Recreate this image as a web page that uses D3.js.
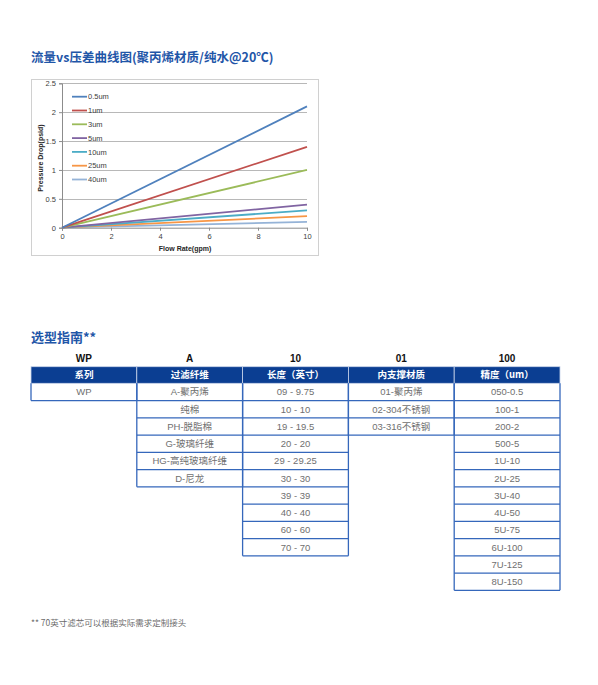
<!DOCTYPE html>
<html>
<head>
<meta charset="utf-8">
<script src="https://cdn.jsdelivr.net/npm/d3@7"></script>
<style>
  body { margin: 0; background: #fff; }
  text { font-family: "Liberation Sans", "Noto Sans CJK SC", sans-serif; }
</style>
</head>
<body>
<div id="page"></div>
<script>
// chart data
var flowRate = [0, 10];
var seriesNames = ["0.5um", "1um", "3um", "5um", "10um", "25um", "40um"];
var drop05 = [0, 2.1];
var drop1 = [0, 1.4];
var drop3 = [0, 1.0];
var drop5 = [0, 0.4];
var drop10 = [0, 0.3];
var drop25 = [0, 0.2];
var drop40 = [0, 0.1];
var xTicks = [0, 2, 4, 6, 8, 10];
var yTicks = [0, 0.5, 1, 1.5, 2, 2.5];

// selection table
var codeLabels = ["WP", "A", "10", "01", "100"];
var headers = ["系列", "过滤纤维", "长度（英寸）", "内支撑材质", "精度（um）"];
var seriesCol = ["WP"];
var fiberCol = ["A-聚丙烯", "纯棉", "PH-脱脂棉", "G-玻璃纤维", "HG-高纯玻璃纤维", "D-尼龙"];
var lengthCol = ["09 - 9.75", "10 - 10", "19 - 19.5", "20 - 20", "29 - 29.25", "30 - 30", "39 - 39", "40 - 40", "60 - 60", "70 - 70"];
var coreCol = ["01-聚丙烯", "02-304不锈钢", "03-316不锈钢"];
var gradeCol = ["050-0.5", "100-1", "200-2", "500-5", "1U-10", "2U-25", "3U-40", "4U-50", "5U-75", "6U-100", "7U-125", "8U-150"];

var colors = ["#4f81bd", "#c0504d", "#9bbb59", "#8064a2", "#4bacc6", "#f79646", "#95b3d7"];
var titleBlue = "#1f56a8";

var svg = d3.select("#page").append("svg")
    .attr("width", 598)
    .attr("height", 685);

// ---- chart ----
svg.append("text")
    .attr("x", 31).attr("y", 62)
    .style("font-family", "'Noto Sans CJK SC', sans-serif")
    .style("font-weight", "bold")
    .style("font-size", "12.5px")
    .style("fill", titleBlue)
    .text("流量vs压差曲线图(聚丙烯材质/纯水@20℃)");

svg.append("rect")
    .attr("x", 31.5).attr("y", 79.5)
    .attr("width", 287).attr("height", 176)
    .style("fill", "#fff")
    .style("stroke", "#d0d0d0");

var x = d3.scaleLinear().domain([0, 10]).range([62, 307]);
var y = d3.scaleLinear().domain([0, 2.5]).range([227.7, 83.3]);

// gridlines
svg.append("g").selectAll("line")
    .data(yTicks.slice(1))
  .enter().append("line")
    .attr("x1", x(0)).attr("x2", x(10))
    .attr("y1", function(d) { return Math.round(y(d)) + 0.5; })
    .attr("y2", function(d) { return Math.round(y(d)) + 0.5; })
    .style("stroke", "#a6a6a6")
    .style("stroke-width", 0.8);

var xAxis = d3.axisBottom(x).tickValues(xTicks).tickFormat(function(d) { return d; })
    .tickSize(3).tickPadding(3);
var yAxis = d3.axisLeft(y).tickValues(yTicks).tickFormat(function(d) { return d; })
    .tickSize(3).tickPadding(3);

var gx = svg.append("g")
    .attr("transform", "translate(0," + y(0) + ")")
    .call(xAxis);
var gy = svg.append("g")
    .attr("transform", "translate(" + x(0) + ",0)")
    .call(yAxis);

[gx, gy].forEach(function(g) {
  g.select(".domain").style("stroke", "#8c8c8c");
  g.selectAll(".tick line").style("stroke", "#8c8c8c");
  g.selectAll(".tick text")
    .style("font-size", "7.5px")
    .style("fill", "#404040");
});

// series
var seriesData = [drop05, drop1, drop3, drop5, drop10, drop25, drop40];
var line = d3.line()
    .x(function(d, i) { return x(flowRate[i]); })
    .y(function(d) { return y(d); });

svg.append("g").selectAll("path")
    .data(seriesData.slice().reverse())
  .enter().append("path")
    .attr("d", line)
    .style("fill", "none")
    .style("stroke", function(d, i) { return colors[seriesData.length - 1 - i]; })
    .style("stroke-width", 1.8);

// legend
var legend = svg.append("g").selectAll("g")
    .data(seriesNames)
  .enter().append("g")
    .attr("transform", function(d, i) { return "translate(72," + (96.7 + i * 13.8) + ")"; });

legend.append("line")
    .attr("x1", 0).attr("x2", 15)
    .style("stroke", function(d, i) { return colors[i]; })
    .style("stroke-width", 1.8);

legend.append("text")
    .attr("x", 16).attr("dy", "0.35em")
    .style("font-size", "7.5px")
    .style("fill", "#404040")
    .text(function(d) { return d; });

// axis titles
svg.append("text")
    .attr("transform", "translate(43,158) rotate(-90)")
    .attr("text-anchor", "middle")
    .style("font-size", "7px")
    .style("font-weight", "bold")
    .style("fill", "#262626")
    .text("Pressure Drop(psid)");

svg.append("text")
    .attr("x", 185).attr("y", 251)
    .attr("text-anchor", "middle")
    .style("font-size", "7px")
    .style("font-weight", "bold")
    .style("fill", "#262626")
    .text("Flow Rate(gpm)");

// ---- selection table ----
svg.append("text")
    .attr("x", 31).attr("y", 342)
    .style("font-family", "'Noto Sans CJK SC', sans-serif")
    .style("font-weight", "bold")
    .style("font-size", "13px")
    .style("fill", titleBlue)
    .text("选型指南**");

var columns = [seriesCol, fiberCol, lengthCol, coreCol, gradeCol];
var col = d3.scaleBand().domain(d3.range(5)).range([31, 560]);
var headTop = 366.7, headBottom = 383.3, rowH = 17.25;
var row = function(i) { return headBottom + i * rowH; };
var lineBlue = "#3567bb";

svg.append("g").selectAll("text")
    .data(codeLabels)
  .enter().append("text")
    .attr("x", function(d, i) { return col(i) + col.bandwidth() / 2; })
    .attr("y", 362)
    .attr("text-anchor", "middle")
    .style("font-size", "10px")
    .style("font-weight", "bold")
    .style("fill", "#111")
    .text(function(d) { return d; });

var head = svg.append("g").selectAll("g")
    .data(headers)
  .enter().append("g");

head.append("rect")
    .attr("x", function(d, i) { return col(i); })
    .attr("y", headTop)
    .attr("width", col.bandwidth())
    .attr("height", headBottom - headTop)
    .style("fill", "#0b3e92")
    .style("stroke", "#c8d4ea")
    .style("stroke-width", 0.8);

head.append("text")
    .attr("x", function(d, i) { return col(i) + col.bandwidth() / 2; })
    .attr("y", (headTop + headBottom) / 2)
    .attr("dy", "0.36em")
    .attr("text-anchor", "middle")
    .style("font-family", "'Noto Sans CJK SC', sans-serif")
    .style("font-size", "9.5px")
    .style("font-weight", "bold")
    .style("fill", "#fff")
    .text(function(d) { return d; });

var colG = svg.append("g").selectAll("g")
    .data(columns)
  .enter().append("g");

colG.each(function(items, c) {
  var g = d3.select(this);
  var x0 = col(c), x1 = col(c) + col.bandwidth();
  g.selectAll("text")
      .data(items)
    .enter().append("text")
      .attr("x", (x0 + x1) / 2)
      .attr("y", function(d, i) { return row(i) + rowH / 2; })
      .attr("dy", "0.36em")
      .attr("text-anchor", "middle")
      .style("font-size", "9.5px")
      .style("fill", "#707070")
      .text(function(d) { return d; });
  g.selectAll("line.row")
      .data(items)
    .enter().append("line")
      .attr("x1", x0).attr("x2", x1)
      .attr("y1", function(d, i) { return row(i + 1); })
      .attr("y2", function(d, i) { return row(i + 1); })
      .style("stroke", lineBlue)
      .style("stroke-width", 1.3);
  [x0, x1].forEach(function(xx) {
    g.append("line")
      .attr("x1", xx).attr("x2", xx)
      .attr("y1", headBottom).attr("y2", row(items.length))
      .style("stroke", lineBlue)
      .style("stroke-width", 1.3);
  });
});

svg.append("text")
    .attr("x", 31).attr("y", 626)
    .style("font-family", "'Noto Sans CJK SC', sans-serif")
    .style("font-size", "8.5px")
    .style("fill", "#6b6b6b")
    .text("** 70英寸滤芯可以根据实际需求定制接头");
</script>
</body>
</html>
